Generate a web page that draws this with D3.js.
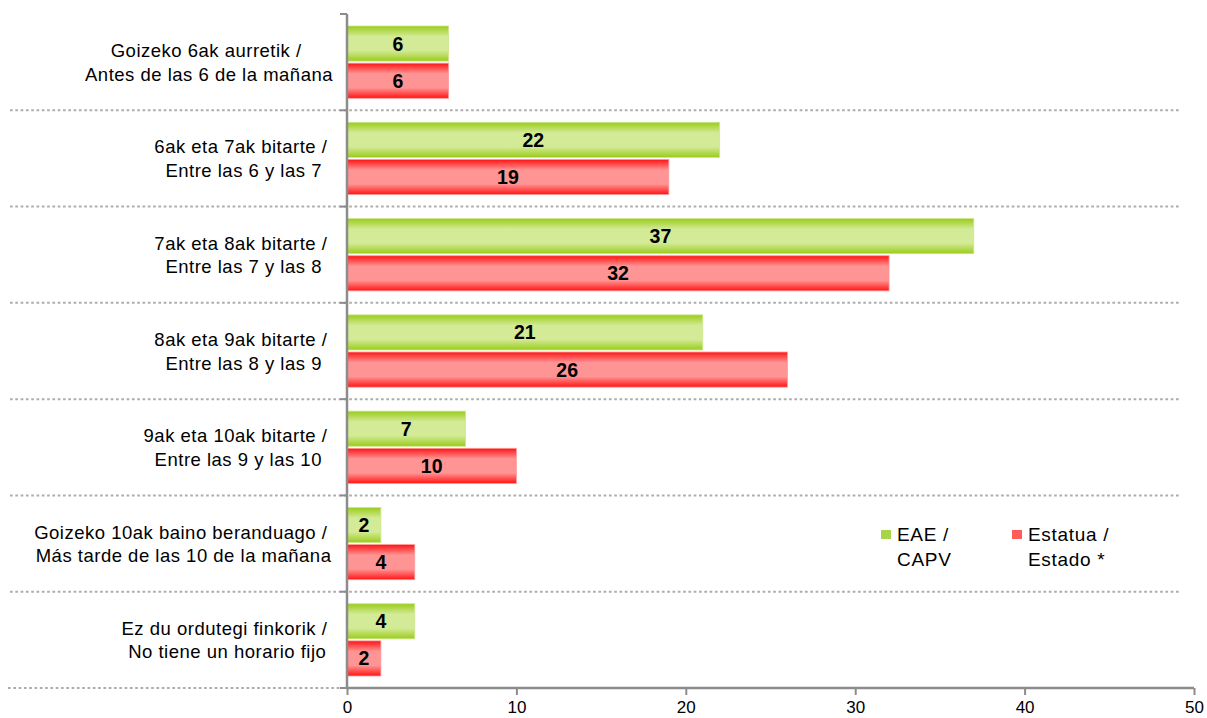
<!DOCTYPE html>
<html><head><meta charset="utf-8">
<script src="https://cdn.jsdelivr.net/npm/d3@7"></script>
<style>
body{margin:0;background:#fff;}
text{font-family:"Liberation Sans",Arial,sans-serif;}
</style></head>
<body><svg id="c" width="1207" height="718"></svg>
<script>
const categoriesLine1 = ["Goizeko 6ak aurretik /","6ak eta 7ak bitarte /","7ak eta 8ak bitarte /","8ak eta 9ak bitarte /","9ak eta 10ak bitarte /","Goizeko 10ak baino beranduago /","Ez du ordutegi finkorik /"];
const categoriesLine2 = ["Antes de las 6 de la mañana","Entre las 6 y las 7","Entre las 7 y las 8","Entre las 8 y las 9","Entre las 9 y las 10","Más tarde de las 10 de la mañana","No tiene un horario fijo"];
const seriesNames = [["EAE /","CAPV"],["Estatua /","Estado *"]];
const eae = [6,22,37,21,7,2,4];
const estado = [6,19,32,26,10,4,2];
const xTicks = [0,10,20,30,40,50];

const svg = d3.select("#c");
const defs = svg.append("defs");
function grad(id, edge, mid){
  const g = defs.append("linearGradient").attr("id",id).attr("x1",0).attr("y1",0).attr("x2",0).attr("y2",1);
  [[0,edge],[0.3,mid],[0.5,mid],[0.7,mid],[1,edge]].forEach(([o,c])=>g.append("stop").attr("offset",o).attr("stop-color",c));
}
grad("gGreen","#99cc1a","#d3ea96");
grad("gRed","#ff1414","#ff9494");

const idx = d3.range(categoriesLine1.length);
const x = d3.scaleLinear().domain([0,50]).range([347,1194]);
const y = d3.scaleBand().domain(idx).range([14,688]);
const sub = d3.scaleBand().domain([0,1]).range([12, y.bandwidth()-12]).paddingInner(0.055);

// dotted separators
const sepYs = idx.slice(1).map(i=>y(i));
svg.selectAll("line.sep").data(sepYs).enter().append("line")
  .attr("x1",10).attr("x2",1180).attr("y1",d=>d).attr("y2",d=>d)
  .attr("stroke","#adadad").attr("stroke-width",2).attr("stroke-dasharray","2.7,2.6");
svg.append("line").attr("x1",8).attr("x2",347).attr("y1",688).attr("y2",688)
  .attr("stroke","#adadad").attr("stroke-width",2).attr("stroke-dasharray","2.7,2.6");

// bars
const series = [{vals:eae, fill:"url(#gGreen)", stroke:"#cfe78c"},{vals:estado, fill:"url(#gRed)", stroke:"#ff9c9c"}];
series.forEach((s,si)=>{
  const g = svg.append("g");
  g.selectAll("rect").data(idx).enter().append("rect")
    .attr("x",x(0)).attr("y",i=>y(i)+sub(si))
    .attr("width",i=>x(s.vals[i])-x(0)).attr("height",sub.bandwidth())
    .attr("fill",s.fill).attr("stroke",s.stroke).attr("stroke-width",0.8);
  g.selectAll("text").data(idx).enter().append("text")
    .attr("x",i=>(x(0)+x(s.vals[i]))/2).attr("y",i=>y(i)+sub(si)+sub.bandwidth()/2+7)
    .attr("text-anchor","middle").attr("font-size",19.5).attr("font-weight","bold").attr("fill","#000")
    .text(i=>s.vals[i]);
});

// category labels
const lab = svg.append("g");
idx.forEach(i=>{
  const c = y(i)+y.bandwidth()/2;
  const t1 = lab.append("text").attr("font-size",18.5).attr("letter-spacing",0.5).attr("fill","#000").style("white-space","pre").text(categoriesLine1[i]+" ");
  const t2 = lab.append("text").attr("font-size",18.5).attr("letter-spacing",0.5).attr("fill","#000").text(categoriesLine2[i]);
  const w = Math.max(t1.node().getComputedTextLength(), t2.node().getComputedTextLength());
  const cx = 333 - w/2;
  t1.attr("x",cx).attr("y",c-5).attr("text-anchor","middle");
  t2.attr("x",cx).attr("y",c+18.5).attr("text-anchor","middle");
});

// y axis
const yAxisG = svg.append("g");
yAxisG.append("line").attr("x1",347).attr("x2",347).attr("y1",14).attr("y2",688).attr("stroke","#8c8c8c").attr("stroke-width",2.5);
yAxisG.selectAll("line.t").data(idx.concat([idx.length])).enter().append("line")
  .attr("x1",340).attr("x2",347).attr("y1",i=>i<idx.length?y(i):688).attr("y2",i=>i<idx.length?y(i):688)
  .attr("stroke","#8c8c8c").attr("stroke-width",2);

// x axis
const xAxis = d3.axisBottom(x).tickValues(xTicks).tickSize(7).tickPadding(8).tickFormat(d3.format("d"));
const xg = svg.append("g").attr("transform","translate(0,688)").call(xAxis);
xg.select(".domain").attr("stroke","#8c8c8c").attr("stroke-width",2.5).attr("d","M347,0H1194");
xg.selectAll(".tick line").attr("stroke","#8c8c8c").attr("stroke-width",2);
xg.selectAll(".tick text").attr("font-size",17).attr("dy",null).attr("y",null)
  .attr("transform","translate(0,25)").attr("fill","#000").attr("font-family","Liberation Sans, Arial, sans-serif");

// legend
const legX = [881, 1012], legColors = ["#a8d449","#ff5c5c"];
seriesNames.forEach((nm,si)=>{
  const g = svg.append("g");
  g.append("rect").attr("x",legX[si]).attr("y",530).attr("width",10).attr("height",9).attr("fill",legColors[si]);
  g.append("text").attr("x",legX[si]+16).attr("y",541).attr("font-size",19).attr("letter-spacing",0.7).attr("fill","#000").text(nm[0]);
  g.append("text").attr("x",legX[si]+16).attr("y",565.5).attr("font-size",19).attr("letter-spacing",0.7).attr("fill","#000").text(nm[1]);
});
</script></body></html>
